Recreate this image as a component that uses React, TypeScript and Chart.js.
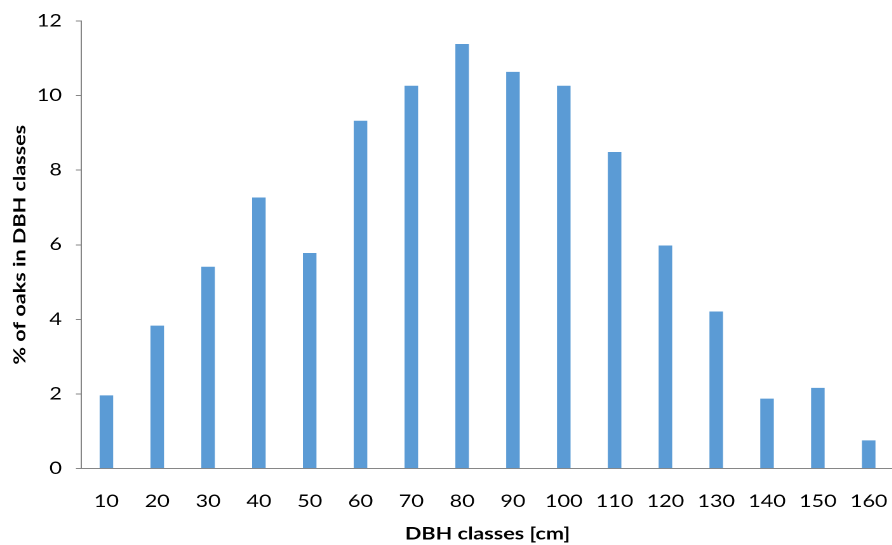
import React, { useEffect, useRef } from "react";
import { Chart, registerables } from "chart.js";

Chart.register(...registerables);

const categories = ["10", "20", "30", "40", "50", "60", "70", "80", "90", "100", "110", "120", "130", "140", "150", "160"];
const percentOaks = [1.95, 3.82, 5.40, 7.26, 5.77, 9.32, 10.26, 11.38, 10.63, 10.26, 8.48, 5.97, 4.20, 1.86, 2.15, 0.74];
const yTicks = [0, 2, 4, 6, 8, 10, 12];
const xTitle = "DBH classes [cm]";
const yTitle = "% of oaks in DBH classes";

const STRETCH = 1.27;
const LOGICAL_W = 706;
const H = 545;
const FONT = "Lato, 'Open Sans', sans-serif";

const yTitlePlugin = {
  id: "yTitleWide",
  afterDraw(chart: any) {
    const { ctx, chartArea } = chart;
    const cx = 20 / STRETCH;
    const cy = (chartArea.top + chartArea.bottom) / 2;
    ctx.save();
    ctx.translate(cx, cy);
    ctx.scale(1 / STRETCH, 1);
    ctx.rotate(-Math.PI / 2);
    ctx.scale(STRETCH, 1);
    ctx.font = `bold 17px ${FONT}`;
    ctx.fillStyle = "#000";
    ctx.textAlign = "center";
    ctx.textBaseline = "middle";
    ctx.fillText(yTitle, 0, 0);
    ctx.restore();
  },
};

export default function App() {
  const ref = useRef<HTMLCanvasElement | null>(null);
  useEffect(() => {
    if (!ref.current) return;
    const axisColor = "#868686";
    const chart = new Chart(ref.current, {
      type: "bar",
      data: {
        labels: categories,
        datasets: [
          {
            data: percentOaks,
            backgroundColor: "#5B9BD5",
            borderWidth: 0,
            barThickness: 10,
          },
        ],
      },
      plugins: [yTitlePlugin],
      options: {
        animation: false,
        responsive: false,
        maintainAspectRatio: false,
        devicePixelRatio: 2,
        layout: { padding: { top: 11, right: 2, bottom: 0, left: 0 } },
        plugins: { legend: { display: false }, tooltip: { enabled: false } },
        scales: {
          x: {
            afterFit: (scale: any) => {
              scale.height = H - 468.3;
              scale.paddingLeft = 0;
              scale.paddingRight = 0;
            },
            grid: { display: true, drawOnChartArea: false, drawTicks: false, color: axisColor },
            border: { display: true, color: axisColor, width: 1 },
            ticks: { color: "#000", font: { family: FONT, size: 17 }, padding: 23, maxRotation: 0, autoSkip: false },
            title: { display: true, text: xTitle, color: "#000", font: { family: FONT, size: 17, weight: "bold" }, padding: { top: 0, bottom: 1 } },
          },
          y: {
            min: 0,
            max: 12,
            afterBuildTicks: (axis: any) => {
              axis.ticks = yTicks.map((v) => ({ value: v }));
            },
            afterFit: (scale: any) => {
              scale.width = 81 / STRETCH;
            },
            grid: { display: true, drawOnChartArea: false, drawTicks: true, tickLength: 4, color: axisColor },
            border: { display: true, color: axisColor, width: 1 },
            ticks: { color: "#000", font: { family: FONT, size: 17 }, padding: 11 },
            title: { display: false },
          },
        },
      },
    });
    return () => chart.destroy();
  }, []);
  return (
    <div style={{ position: "fixed", left: 0, top: 0, width: 892, height: H, overflow: "hidden", background: "#fff" }}>
      <canvas
        ref={ref}
        width={LOGICAL_W}
        height={H}
        style={{ display: "block", width: LOGICAL_W, height: H, transform: `scaleX(${STRETCH})`, transformOrigin: "0 0" }}
      />
    </div>
  );
}
